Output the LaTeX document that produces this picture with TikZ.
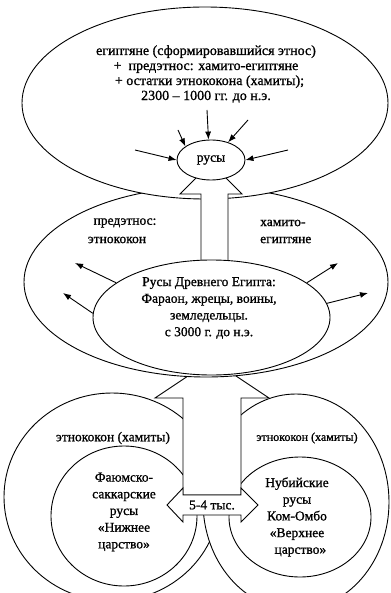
\documentclass[tikz,border=0pt]{standalone}
\usepackage{fontspec}
\setmainfont{Liberation Serif}[FakeBold=1]
\usetikzlibrary{shapes.geometric,arrows.meta}
\begin{document}
\begin{tikzpicture}[x=1pt,y=-1pt,
  oval/.style={ellipse, draw, fill=white, inner sep=0pt, line width=0.9pt},
  txt/.style={font=\fontsize{14}{15}\selectfont, align=center, inner sep=0pt},
  txtb/.style={font=\fontsize{13.5}{16.7}\selectfont, align=center, inner sep=0pt},
  arr/.style={-{Latex[length=8pt,width=6pt]}, line width=0.9pt},
  blockarrow/.style={draw, fill=white, line width=0.9pt, line join=miter}]
\useasboundingbox (0,0) rectangle (390,593);

% bottom circles
\node[oval, minimum width=216pt, minimum height=208pt] (LB) at (112,497) {};
\node[oval, minimum width=146pt, minimum height=140pt] (LI) at (124,516) {};
\node[oval, minimum width=186pt, minimum height=216pt] (RB) at (296,502) {};
\node[oval, minimum width=142pt, minimum height=120pt] (RI) at (300,517) {};

% bottom up arrow and double arrow
\draw[blockarrow] (183,495) -- (183,398) -- (155,398) -- (212,360) -- (269,398) -- (241,398) -- (241,495) -- cycle;
\draw[blockarrow] (167,505) -- (183,488) -- (183,495) -- (241,495) -- (241,488) -- (258,505) -- (241,522) -- (241,515) -- (183,515) -- (183,522) -- cycle;
\node[txtb] (dur) at (212,505) {5-4 тыс.};

% middle and top ellipses
\node[oval, minimum width=364pt, minimum height=190pt] (mid) at (206,282) {};
\node[oval, minimum width=366pt, minimum height=192pt] (topE) at (205,103) {};

% middle up arrow
\draw[blockarrow] (201,264) -- (201,194) -- (180,194) -- (211,163) -- (242,194) -- (228,194) -- (228,264) -- cycle;

\node[oval, minimum width=237pt, minimum height=115pt] (inner) at (211.5,317.5) {};
\node[oval, minimum width=68pt, minimum height=40pt] (rusy) at (211,160) {};
\node[txtb] at (rusy.center) {русы};

% arrows into rusy
\coordinate (i1) at (207,110);
\coordinate (i2) at (248,120);
\coordinate (i3) at (178,130);
\coordinate (i4) at (135,150);
\coordinate (i5) at (288,150);
\draw[arr] (i1) -- (rusy.97);
\draw[arr] (i2) -- (rusy.46);
\draw[arr] (i3) -- (rusy.152);
\draw[arr] (i4) -- (rusy.180);
\draw[arr] (i5) -- (rusy.0);

% arrows out of inner
\coordinate (o1) at (75,263);
\coordinate (o2) at (63,293);
\coordinate (o3) at (338,263);
\coordinate (o4) at (368,293);
\draw[arr] (inner.160) -- (o1);
\draw[arr] (inner.178) -- (o2);
\draw[arr] (inner.20) -- (o3);
\draw[arr] (inner.7) -- (o4);

% texts
\node[txt] (ttop) at (206,74) {египтяне (сформировавшийся этнос)\\+\ \ предэтнос: хамито-египтяне\\\ \ + остатки этнококона (хамиты);\\2300 -- 1000 гг. до н.э.};
\node[txtb] (tl1) at (125,223) {предэтнос:};
\node[txtb] (tl2) at (117,240) {этнококон};
\node[txtb, anchor=west] (tr1) at (260,223) {хамито-};
\node[txtb, anchor=west] (tr2) at (260,240) {египтяне};
\node[txtb] (tin) at (209,308) {Русы Древнего Египта:\\Фараон, жрецы, воины,\\земледельцы.\\с 3000 г. до н.э.};
\node[txtb] (tel) at (113,438) {этнококон (хамиты)};
\node[txtb, font=\fontsize{12}{14}\selectfont] (ter) at (307,438) {этнококон (хамиты)};
\node[txtb] (tlow) at (124,512) {Фаюмско-\\саккарские\\русы\\«Нижнее\\царство»};
\node[txtb] (tup) at (297,517) {Нубийские\\русы\\Ком-Омбо\\«Верхнее\\\ \ царство»};
\end{tikzpicture}
\end{document}
